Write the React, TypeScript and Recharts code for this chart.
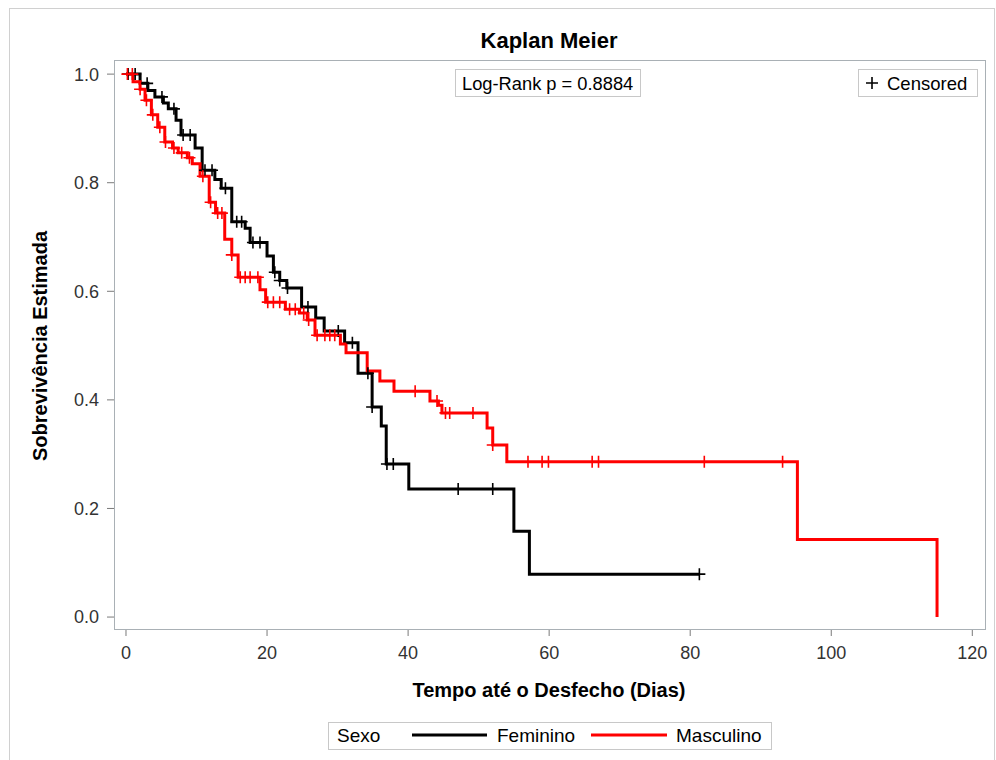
import React from 'react';
import { ComposedChart, Line, Scatter, XAxis, YAxis } from 'recharts';

// Feminino (black) KM step curve
const femTimes = [0, 2.0, 3.1, 4.1, 5.3, 6.0, 7.1, 7.8, 9.8, 10.8, 12.6, 13.5, 15.0, 16.9, 17.6, 20.0, 20.9, 21.8, 22.8, 24.9, 26.9, 28.1, 31.0, 32.9, 34.9, 36.2, 36.9, 40.1, 55.0, 57.2];
const femSurv = [1.0, 0.983, 0.970, 0.958, 0.947, 0.936, 0.915, 0.888, 0.864, 0.823, 0.806, 0.79, 0.728, 0.716, 0.69, 0.665, 0.635, 0.62, 0.606, 0.571, 0.551, 0.527, 0.505, 0.449, 0.387, 0.352, 0.282, 0.236, 0.158, 0.079];
const femEnd = 81.3;
const femCensor = [0.3, 1.3, 3.0, 5.1, 6.8, 8.1, 9.1, 11.2, 12.2, 14.1, 15.7, 16.4, 18.0, 19.0, 21.1, 21.8, 22.9, 25.8, 30.1, 32.1, 34.3, 34.9, 37.0, 37.9, 47.1, 52.0, 81.3];

// Masculino (red) KM step curve
const mascTimes = [0, 1.0, 2.0, 2.7, 3.6, 4.5, 5.5, 6.6, 7.4, 8.7, 9.4, 10.5, 11.8, 12.7, 14.0, 15.0, 15.9, 19.0, 19.8, 22.6, 24.6, 25.7, 26.8, 30.4, 31.2, 34.2, 36.0, 38.0, 43.1, 44.3, 44.8, 51.2, 52.0, 54.0, 95.2, 115.0];
const mascSurv = [1.0, 0.986, 0.972, 0.952, 0.925, 0.902, 0.875, 0.864, 0.855, 0.846, 0.835, 0.812, 0.764, 0.744, 0.696, 0.667, 0.626, 0.603, 0.58, 0.567, 0.56, 0.547, 0.519, 0.503, 0.487, 0.453, 0.435, 0.416, 0.398, 0.39, 0.376, 0.348, 0.317, 0.286, 0.143, 0.0];
const mascCensor = [0.2, 0.9, 2.0, 2.9, 3.8, 4.8, 5.6, 6.8, 7.9, 9.0, 10.9, 12.0, 13.0, 13.6, 15.0, 16.2, 16.9, 17.6, 18.7, 20.1, 20.9, 21.8, 23.2, 24.0, 25.2, 25.9, 27.1, 28.2, 28.9, 29.6, 41.0, 44.1, 45.3, 45.9, 49.2, 52.0, 57.0, 59.0, 59.9, 66.1, 67.0, 82.0, 93.1];

const xTicks = [0, 20, 40, 60, 80, 100, 120];
const yTicks = [0, 0.2, 0.4, 0.6, 0.8, 1.0];

const FONT = '"Liberation Sans", Arial, sans-serif';

function survAt(times: number[], surv: number[], t: number) {
  let s = surv[0];
  for (let i = 0; i < times.length; i++) {
    if (times[i] <= t + 1e-9) s = surv[i];
  }
  return s;
}

const femLine = [...femTimes.map((t, i) => ({ t, s: femSurv[i] })), { t: femEnd, s: femSurv[femSurv.length - 1] }];
const mascLine = mascTimes.map((t, i) => ({ t, s: mascSurv[i] }));
const femMarks = femCensor.map((t) => ({ t, s: survAt(femTimes, femSurv, t) }));
const mascMarks = mascCensor.map((t) => ({ t, s: survAt(mascTimes, mascSurv, t) }));

const makePlus = (color: string) => (props: any) => {
  const { cx, cy } = props;
  if (cx == null || cy == null) return <g />;
  return (
    <path d={`M${cx - 6},${cy}h12M${cx},${cy - 6}v12`} stroke={color} strokeWidth={1.6} fill="none" />
  );
};

export default function App() {
  return (
    <div style={{ position: 'absolute', left: 0, top: 0, width: 996, height: 760, overflow: 'hidden', background: '#fff', fontFamily: FONT }}>
      <ComposedChart width={996} height={760} margin={{ top: 60, right: 11, left: 0, bottom: 71 }}>
        <XAxis
          dataKey="t"
          type="number"
          domain={[-1.7, 121.8]}
          ticks={xTicks}
          allowDataOverflow
          axisLine={false}
          tickLine={{ stroke: '#7a7a7a' }}
          tickSize={7}
          tickMargin={10}
          height={60}
          tick={{ fill: '#333', fontSize: 18, fontFamily: FONT }}
        />
        <YAxis
          type="number"
          domain={[-0.022, 1.026]}
          ticks={yTicks}
          allowDataOverflow
          axisLine={false}
          tickLine={{ stroke: '#7a7a7a' }}
          tickSize={7}
          tickMargin={8}
          width={114}
          tickFormatter={(v: number) => v.toFixed(1)}
          tick={{ fill: '#333', fontSize: 18, fontFamily: FONT }}
        />
        <Line data={femLine} dataKey="s" type="stepAfter" stroke="#000000" strokeWidth={3} dot={false} isAnimationActive={false} />
        <Line data={mascLine} dataKey="s" type="stepAfter" stroke="#ff0000" strokeWidth={3} dot={false} isAnimationActive={false} />
        <Scatter data={femMarks} dataKey="s" shape={makePlus('#000000')} isAnimationActive={false} />
        <Scatter data={mascMarks} dataKey="s" shape={makePlus('#ff0000')} isAnimationActive={false} />
      </ComposedChart>
      <svg width={996} height={760} style={{ position: 'absolute', left: 0, top: 0, pointerEvents: 'none' }}>
        <rect x={9.5} y={8.5} width={985} height={800} fill="none" stroke="#d0d0d0" />
        <rect x={114.5} y={60.5} width={871} height={569} fill="none" stroke="#a9b0b5" />
        <text x={549} y={48} textAnchor="middle" fontFamily={FONT} fontWeight="bold" fontSize={22} fill="#000">Kaplan Meier</text>
        <text x={549} y={697} textAnchor="middle" fontFamily={FONT} fontWeight="bold" fontSize={20} fill="#000">Tempo até o Desfecho (Dias)</text>
        <text x={47} y={346} textAnchor="middle" transform="rotate(-90 47 346)" fontFamily={FONT} fontWeight="bold" fontSize={20} fill="#000">Sobrevivência Estimada</text>
        <rect x={455.5} y={69.5} width={185} height={27} fill="#fff" stroke="#c8c8c8" />
        <text x={462} y={90} fontFamily={FONT} fontSize={18.3} fill="#000">Log-Rank p = 0.8884</text>
        <rect x={858.5} y={69.5} width={119} height={27} fill="#fff" stroke="#c8c8c8" />
        <path d="M866,83h12M872,77v12" stroke="#000" strokeWidth={1.6} fill="none" />
        <text x={887} y={90} fontFamily={FONT} fontSize={18.5} fill="#000">Censored</text>
        <rect x={328.5} y={722.5} width={443} height={27} fill="#fff" stroke="#c8c8c8" />
        <text x={337} y={742} fontFamily={FONT} fontSize={19} fill="#000">Sexo</text>
        <line x1={412} y1={735} x2={487} y2={735} stroke="#000" strokeWidth={3} />
        <text x={497} y={742} fontFamily={FONT} fontSize={19} fill="#000">Feminino</text>
        <line x1={591} y1={735} x2={667} y2={735} stroke="#ff0000" strokeWidth={3} />
        <text x={676} y={742} fontFamily={FONT} fontSize={19} fill="#000">Masculino</text>
      </svg>
    </div>
  );
}
